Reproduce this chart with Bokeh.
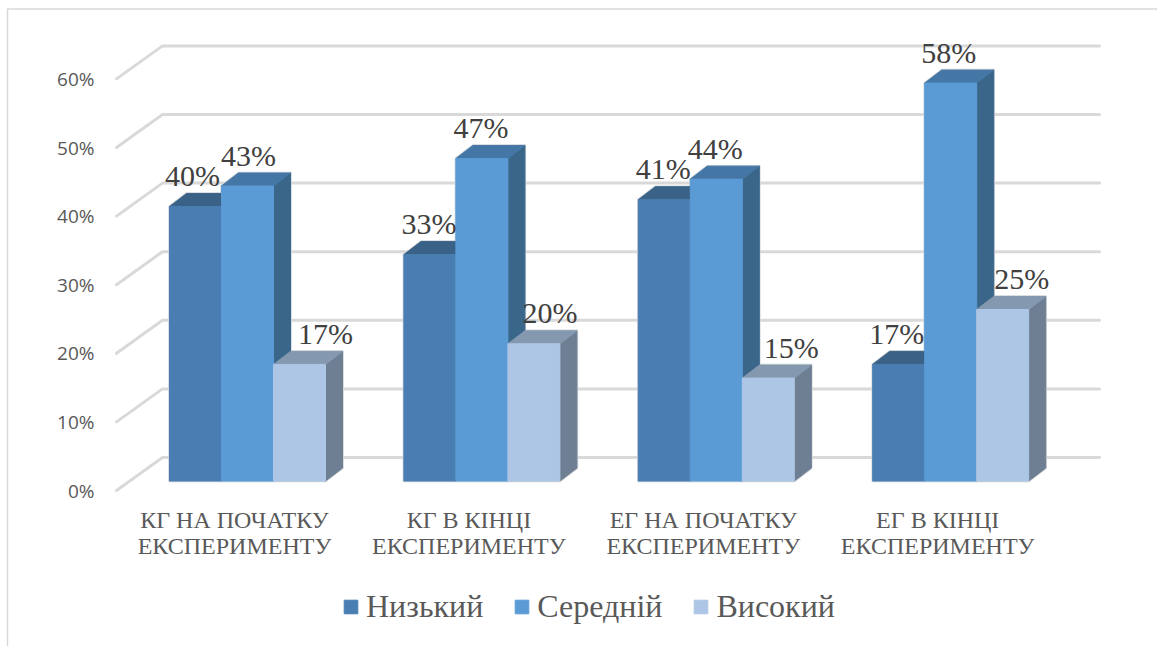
from bokeh.plotting import figure
from bokeh.models import (ColumnDataSource, Range1d, LinearAxis, FixedTicker, Legend, LegendItem)
from bokeh.core.properties import value
from bokeh.embed import file_html
from bokeh.resources import INLINE

categories = ["КГ НА ПОЧАТКУ\nЕКСПЕРИМЕНТУ", "КГ В КІНЦІ\nЕКСПЕРИМЕНТУ",
              "ЕГ НА ПОЧАТКУ\nЕКСПЕРИМЕНТУ", "ЕГ В КІНЦІ\nЕКСПЕРИМЕНТУ"]
series_names = ["Низький", "Середній", "Високий"]
nyzkyi = [40, 33, 41, 17]
serednii = [43, 47, 44, 58]
vysokyi = [17, 20, 15, 25]
y_ticks = [0, 10, 20, 30, 40, 50, 60]
y_tick_labels = ["0%", "10%", "20%", "30%", "40%", "50%", "60%"]

# Styles: front, top, side colours per series
front = ["#4a7eb2", "#5b9bd5", "#adc6e5"]
top = ["#3a6186", "#4477a6", "#8499b0"]
side = ["#34597c", "#3a6689", "#6e7f93"]
# hand-moved data labels in the source (px from bar centre)
label_dx = [[-3, 1, 26], [-1, -1, 16], [-1, -1, 23], [-2, -2, 19]]

W, H = 1157, 646
PX_X = 234.4     # px per category
PX_Y = 6.86      # px per percentage point
BASE_Y = 480.5   # page y of bar base
AXIS_Y = 490     # page y of axis zero
AXIS_X = 100     # page x of the value axis
CAT0_X = 234     # page x of first category centre
CAT_LABEL_Y = 532  # page y of the category labels' centre


def xd(px):
    return (px - CAT0_X) / PX_X


def yd(px):
    return (BASE_Y - px) / PX_Y


p = figure(width=W, height=H, output_backend="svg", toolbar_location=None,
           x_range=Range1d(xd(0), xd(W)), y_range=Range1d(yd(H), yd(0)),
           y_axis_location=None, x_axis_location=None,
           min_border_left=0, min_border_right=0, min_border_top=0, min_border_bottom=0)
p.outline_line_color = None
p.background_fill_color = "white"
p.grid.visible = False

p.extra_y_ranges = {"axis": Range1d((AXIS_Y - H) / PX_Y, AXIS_Y / PX_Y)}
yax = LinearAxis(y_range_name="axis", ticker=FixedTicker(ticks=y_ticks),
                 major_label_overrides=dict(zip(y_ticks, y_tick_labels)),
                 fixed_location=xd(AXIS_X))
yax.axis_line_color = None
yax.major_tick_line_color = None
yax.minor_tick_line_color = None
yax.major_label_text_font = "Open Sans"
yax.major_label_text_font_size = "19px"
yax.major_label_text_color = "#595959"
yax.major_label_standoff = 0
p.add_layout(yax, "left")

# chart border (left and top edges)
p.line([xd(7), xd(7), xd(W)], [yd(H), yd(8.5), yd(8.5)], line_color="#d9d9d9", line_width=1.5)

# depth of the 3D projection
DX = 17 / PX_X
DY = 13 / PX_Y
WALL_L = xd(162)
WALL_R = xd(1099)
WALL_DX = 46 / PX_X
WALL_DY = 33 / PX_Y
WALL_UP = (BASE_Y - 457) / PX_Y

gx, gy = [], []
for t in y_ticks:
    yb = t + WALL_UP
    gx.append([WALL_L - WALL_DX, WALL_L, WALL_R])
    gy.append([yb - WALL_DY, yb, yb])
p.multi_line(gx, gy, line_color="#d9d9d9", line_width=3, line_cap="round", line_join="round")

BAR_W = 52 / PX_X
GROUP_L = -65 / PX_X
all_series = [nyzkyi, serednii, vysokyi]

# faint halo round every bar, below all the bars
for s, vals in enumerate(all_series):
    lefts = [i + GROUP_L + s * BAR_W for i in range(len(vals))]
    rights = [l + BAR_W for l in lefts]
    hx = [[l, r, r + DX, r + DX, l + DX, l] for l, r in zip(lefts, rights)]
    hy = [[0, 0, DY, v + DY, v + DY, v] for v in vals]
    p.patches(hx, hy, fill_color=None, line_color="#cfd3d8", line_width=2.5, line_join="round")

label_x, label_y, label_t, label_off = [], [], [], []
renderers = []
for s, vals in enumerate(all_series):
    lefts = [i + GROUP_L + s * BAR_W for i in range(len(vals))]
    rights = [l + BAR_W for l in lefts]
    tx = [[l, l + DX, r + DX, r] for l, r in zip(lefts, rights)]
    ty = [[v, v + DY, v + DY, v] for v in vals]
    sx = [[r, r + DX, r + DX, r] for r in rights]
    sy = [[0, DY, v + DY, v] for v in vals]
    p.patches(sx, sy, fill_color=side[s], line_color=side[s], line_width=1)
    p.patches(tx, ty, fill_color=top[s], line_color=top[s], line_width=1)
    q = p.quad(left=lefts, right=rights, bottom=0, top=vals, fill_color=front[s],
               line_color=front[s], line_width=1)
    renderers.append(q)
    for i, v in enumerate(vals):
        label_x.append((lefts[i] + rights[i]) / 2)
        label_y.append(v)
        label_t.append(f"{v}%")
        label_off.append(label_dx[i][s])

src = ColumnDataSource(dict(x=label_x, y=label_y, t=label_t, dx=label_off))
p.text("x", "y", text="t", source=src, x_offset="dx", y_offset=-31, text_align="center",
       text_baseline="middle", text_font=value("Liberation Serif"),
       text_font_size=value("30px"), text_color="#404040")

p.text(list(range(len(categories))), [yd(CAT_LABEL_Y)] * len(categories), text=categories,
       text_align="center", text_baseline="middle", text_font=value("Liberation Serif"),
       text_font_size=value("24px"), text_color="#595959", text_line_height=1.0)

legend = Legend(items=[LegendItem(label=n, renderers=[r]) for n, r in zip(series_names, renderers)],
                orientation="horizontal", location=(342, 21), border_line_color=None,
                background_fill_color=None, background_fill_alpha=0,
                label_text_font="Liberation Serif", label_text_font_size="32px",
                label_text_color="#595959", glyph_width=17, glyph_height=17,
                spacing=30, padding=0, margin=0, label_standoff=7)
p.add_layout(legend)

open("out.html", "w").write(file_html(p, INLINE))
